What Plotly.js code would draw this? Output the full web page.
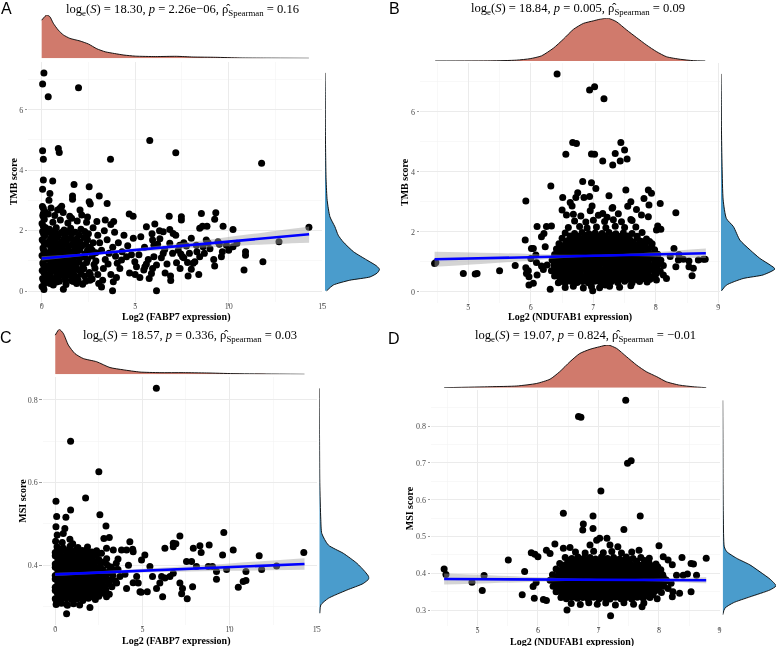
<!DOCTYPE html>
<html><head><meta charset="utf-8">
<script src="https://cdn.plot.ly/plotly-3.0.1.min.js"></script>
<style>html,body{margin:0;padding:0;background:#fff}#chart{width:776px;height:646px}#chart .main-svg{will-change:transform}</style>
</head><body><div id="chart"></div>
<script>
// ---------------- DATA ----------------
// Panel A: FABP7 expression vs TMB score  [x, y]
const tmbVsFabp7 = [
[0.12,7.22],[0.05,6.85],[1.97,6.73],[0.35,6.43],[0.05,4.64],[0.09,4.36],[0.89,4.72],[0.94,4.59],[3.68,4.36],[5.78,4.98],[7.17,4.58],[11.76,4.23],
[0.09,3.68],[0.05,3.37],[0.59,3.64],[0.44,3.23],[0.39,3.01],[1.73,3.53],[1.65,3.15],[1.65,3.04],[2.54,3.45],[2.54,2.96],[2.6,2.88],[3.08,3.15],[3.5,2.9],[1.07,2.81],[0.98,2.74],[0.09,2.74],[0.09,2.57],[1.6,2.41],[2.05,2.68],[2.14,2.52],[4.68,2.55],[4.89,2.48],[6.82,2.48],[7.47,2.46],[7.47,2.35],[8.54,2.57],[9.31,2.59],[9.25,2.38],[8.6,2.15],[8.45,2.08],[8.84,2.15],[9.7,2.15],[10.23,2.04],[5.6,2.13],[6.05,2.22],[6.85,2.04],[7.03,1.91],[7.17,1.85],[6.5,1.96],[6.32,1.73],[5.93,1.69],[6.0,1.52],[6.85,1.58],[7.38,1.52],[7.74,1.49],[8.27,1.52],[8.63,1.47],[8.8,1.69],[9.43,1.63],[9.88,1.52],[10.23,1.47],[10.44,1.58],[12.69,1.63],[14.29,2.11],[11.83,0.97],[10.82,0.7],[10.9,1.3],[10.9,1.19],[9.66,1.3],[9.61,1.14],[9.25,0.83],[8.45,1.14],[8.19,0.97],[8.1,0.92],[8.0,0.72],[7.83,0.5],[7.44,1.23],[7.53,1.14],[7.21,0.94],[6.89,0.5],[6.58,1.38],[6.5,1.25],[6.14,0.86],[6.0,1.14],[5.93,0.75],[5.87,0.58],[6.14,0.01],[5.75,0.42],[5.25,0.45],[5.46,0.7],[5.52,0.81],[4.98,0.97],[5.07,0.81],[4.54,1.14],[4.27,1.03],[4.04,0.92],[4.18,0.75],[3.83,0.31],[3.79,0.01],[3.26,0.36],[3.2,0.14],[2.58,0.36],[2.19,0.23],[1.87,0.25],[1.16,0.06],[0.62,0.2],[0.09,0.14],
[0.02,0.15],[0.18,0.28],[0.05,0.42],[0.2,0.55],[0.03,0.68],[0.16,0.8],[0.06,0.93],[0.22,1.05],[0.02,1.18],[0.15,1.3],[0.07,1.43],[0.2,1.56],[0.03,1.7],[0.17,1.83],[0.05,1.97],[0.21,2.1],[0.02,2.24],[0.14,2.38],[0.06,2.5],[0.19,2.62],[0.04,2.8],[0.12,0.05],[0.1,0.35],[0.12,0.62],[0.09,0.88],[0.11,1.12],[0.1,1.37],[0.12,1.62],[0.1,1.9],[0.09,2.15],[0.11,2.45],
[0.45,0.25],[0.8,0.3],[1.3,0.22],[1.7,0.32],
[0.35,0.48],[0.65,0.42],[0.95,0.5],[1.25,0.44],[1.55,0.52],[1.9,0.45],[2.3,0.5],
[0.5,0.65],[0.78,0.7],[1.08,0.62],[1.38,0.68],[1.68,0.63],[2.0,0.7],[2.55,0.62],
[0.38,0.85],[0.65,0.9],[0.95,0.82],[1.22,0.88],[1.52,0.84],[1.82,0.9],[2.2,0.85],[2.8,0.88],
[0.5,1.05],[0.8,1.1],[1.1,1.02],[1.4,1.08],[1.7,1.04],[2.05,1.1],[2.45,1.05],
[0.36,1.25],[0.66,1.28],[0.96,1.22],[1.26,1.3],[1.56,1.24],[1.9,1.28],[2.3,1.22],[2.9,1.27],
[0.5,1.45],[0.82,1.48],[1.12,1.42],[1.45,1.5],[1.78,1.44],[2.15,1.5],[2.6,1.45],
[0.4,1.65],[0.72,1.68],[1.05,1.62],[1.35,1.7],[1.7,1.66],[2.05,1.62],[2.45,1.7],
[0.55,1.85],[0.9,1.88],[1.25,1.82],[1.6,1.9],[2.0,1.86],[2.5,1.9],
[0.42,2.05],[0.78,2.1],[1.2,2.02],[1.55,2.08],[2.1,2.05],[2.75,2.1],
[0.6,2.28],[1.0,2.35],[1.4,2.25],[1.9,2.32],[2.4,2.28],
[0.35,2.55],[0.7,2.5],[1.15,2.6],[1.5,2.48],[0.5,2.75],[0.85,2.68],
[0.3,0.35],[0.62,0.36],[0.95,0.33],[1.28,0.37],[1.6,0.34],[1.95,0.36],[2.35,0.33],
[0.45,0.55],[0.8,0.57],[1.12,0.54],[1.42,0.56],[1.75,0.53],[2.1,0.57],[2.6,0.55],
[0.32,0.75],[0.65,0.77],[0.95,0.74],[1.25,0.76],[1.55,0.73],[1.85,0.77],[2.25,0.74],[2.85,0.76],
[0.5,0.95],[0.82,0.97],[1.1,0.94],[1.4,0.96],[1.68,0.93],[2.0,0.97],[2.4,0.95],
[0.35,1.15],[0.65,1.17],[0.95,1.14],[1.25,1.16],[1.55,1.13],[1.88,1.17],[2.25,1.14],[2.7,1.16],
[0.48,1.35],[0.8,1.37],[1.1,1.34],[1.42,1.36],[1.72,1.33],[2.05,1.37],[2.45,1.35],
[0.35,1.55],[0.66,1.57],[0.98,1.54],[1.3,1.56],[1.62,1.53],[1.95,1.57],[2.35,1.55],
[0.5,1.75],[0.85,1.77],[1.2,1.74],[1.55,1.76],[1.88,1.73],[2.25,1.77],
[0.35,1.95],[0.7,1.97],[1.05,1.94],[1.4,1.96],[1.8,1.95],[2.3,1.97],
[3.0,0.55],[3.3,0.75],[2.9,1.0],[3.4,1.05],[3.2,1.35],[3.6,1.25],[3.1,1.6],[3.5,1.7],[3.0,1.85],[3.35,2.0],[3.7,2.2],[3.9,1.95],[4.1,1.6],[3.8,1.45],[4.3,1.3],[3.7,0.55],[4.0,0.45],[2.7,0.4],[3.05,0.25],[2.7,1.35],[2.75,1.6],[3.55,0.9],[3.95,1.15],[4.4,1.85],[4.6,1.5],[4.8,1.2],[4.7,0.6],[3.4,2.35],[2.95,2.3],[2.45,2.45],[3.85,2.3],
[5.2,1.2],[5.5,1.45],[5.7,1.05],[6.2,1.55],[6.4,1.1],[6.7,0.9],[7.0,1.25],[7.3,1.35],[7.6,1.1],[7.9,1.25],[8.3,1.3],[8.7,1.25],[9.0,1.4],[5.3,1.8],[5.9,1.9],[6.3,2.0],[7.6,1.6],[8.0,1.75],[8.9,1.6],[9.2,1.05],[5.0,0.55],[6.6,0.6],[7.4,0.75],[8.4,0.55],[4.9,1.75],[5.6,0.9],[6.9,0.35],[7.8,0.95],[9.5,1.55],[10.0,1.35]
];
// Panel B: NDUFAB1 expression vs TMB score
const tmbVsNdufab1 = [
[6.42,7.26],[6.94,6.72],[7.02,6.83],[7.17,6.43],[6.67,4.97],[6.73,4.94],[6.56,4.58],[6.97,4.59],[7.02,4.58],[7.15,4.36],[7.31,4.22],[7.35,4.61],[7.43,4.36],[7.44,4.97],[7.5,4.72],[7.54,4.42],[7.52,3.39],[6.32,3.52],[5.92,3.02],[6.83,3.67],[6.97,3.63],[7.04,3.44],[6.51,3.14],[6.72,3.14],[6.85,3.14],[6.94,3.17],[6.63,2.97],[6.66,2.86],[6.98,2.86],[7.88,3.39],[7.93,3.28],[7.81,3.11],[8.07,2.94],[7.89,2.89],[7.31,2.81],[7.69,2.74],[8.32,2.63],[6.5,2.72],[6.57,2.56],[6.68,2.58],[7.15,2.61],[7.6,2.41],[7.77,2.56],[7.88,2.5],[8.03,2.19],[8.01,2.06],[8.08,2.08],[6.25,2.17],[6.33,2.19],[6.1,2.17],[5.91,1.72],[6.01,1.44],[6.04,1.44],[6.08,1.22],[6.17,1.83],[6.21,1.94],[6.23,1.5],[8.29,1.44],[8.37,1.24],[8.23,1.17],[8.36,1.06],[8.32,0.83],[8.44,1.08],[8.53,1.02],[8.53,0.83],[8.6,0.78],[8.76,1.08],[8.68,1.06],[8.58,0.53],[8.79,1.08],[4.46,0.94],[4.48,0.97],[4.92,0.61],[5.11,0.59],[5.14,0.61],[5.5,0.7],[5.75,0.87],[5.92,0.8],[5.96,0.7],[5.93,0.61],[5.97,0.5],[6.0,1.11],[5.97,0.22],[6.04,0.28],[6.09,0.97],[6.1,0.56],[6.17,0.86],[6.31,0.08],[6.44,0.3],[6.99,0.03],[7.19,0.22],[6.2,0.74],[6.26,0.89],[7.92,0.44],[8.01,0.61],[8.01,0.39],[8.12,0.56],[8.17,0.44],
[6.55,0.14],[6.68,0.18],[6.84,0.12],[6.97,0.17],[7.1,0.13],[7.26,0.18],[7.42,0.15],[7.6,0.2],
[6.46,0.33],[6.55,0.3],[6.64,0.35],[6.74,0.31],[6.83,0.34],[6.92,0.3],[7.02,0.35],[7.11,0.32],[7.2,0.3],[7.29,0.34],[7.39,0.31],[7.5,0.35],[7.62,0.3],[7.74,0.34],[7.86,0.32],
[6.38,0.52],[6.47,0.49],[6.57,0.53],[6.65,0.5],[6.74,0.52],[6.84,0.48],[6.93,0.53],[7.01,0.5],[7.11,0.52],[7.19,0.49],[7.28,0.53],[7.37,0.5],[7.47,0.52],[7.55,0.48],[7.64,0.53],[7.73,0.5],[7.83,0.52],[7.93,0.49],
[6.33,0.7],[6.42,0.68],[6.51,0.71],[6.6,0.67],[6.69,0.7],[6.79,0.68],[6.88,0.72],[6.96,0.67],[7.06,0.7],[7.15,0.68],[7.24,0.71],[7.33,0.67],[7.42,0.7],[7.51,0.68],[7.6,0.72],[7.69,0.67],[7.78,0.7],[7.87,0.68],[7.97,0.71],[8.07,0.69],
[6.37,0.88],[6.46,0.86],[6.56,0.89],[6.64,0.85],[6.74,0.88],[6.83,0.86],[6.92,0.89],[7.01,0.85],[7.1,0.88],[7.2,0.86],[7.28,0.89],[7.38,0.85],[7.47,0.88],[7.56,0.86],[7.65,0.89],[7.74,0.85],[7.83,0.88],[7.92,0.86],[8.02,0.89],[8.12,0.87],
[6.34,1.06],[6.43,1.04],[6.52,1.07],[6.61,1.03],[6.7,1.06],[6.79,1.04],[6.88,1.07],[6.97,1.03],[7.06,1.06],[7.15,1.04],[7.24,1.07],[7.33,1.03],[7.42,1.06],[7.51,1.04],[7.6,1.07],[7.69,1.03],[7.78,1.06],[7.88,1.04],[7.98,1.07],[8.08,1.05],
[6.38,1.24],[6.47,1.22],[6.56,1.25],[6.65,1.21],[6.74,1.24],[6.83,1.22],[6.92,1.25],[7.01,1.21],[7.1,1.24],[7.19,1.22],[7.28,1.25],[7.37,1.21],[7.46,1.24],[7.55,1.22],[7.64,1.25],[7.73,1.21],[7.82,1.24],[7.92,1.22],[8.03,1.25],
[6.41,1.42],[6.5,1.4],[6.6,1.43],[6.69,1.39],[6.78,1.42],[6.87,1.4],[6.96,1.43],[7.05,1.39],[7.14,1.42],[7.23,1.4],[7.32,1.43],[7.41,1.39],[7.5,1.42],[7.59,1.4],[7.68,1.43],[7.77,1.39],[7.87,1.42],[7.98,1.4],
[6.45,1.6],[6.55,1.58],[6.64,1.61],[6.73,1.57],[6.82,1.6],[6.91,1.58],[7.0,1.61],[7.09,1.57],[7.18,1.6],[7.27,1.58],[7.36,1.61],[7.45,1.57],[7.54,1.6],[7.63,1.58],[7.73,1.61],[7.83,1.57],[7.94,1.6],
[6.5,1.78],[6.62,1.76],[6.72,1.79],[6.8,1.75],[6.9,1.78],[7.0,1.76],[7.09,1.79],[7.18,1.75],[7.28,1.78],[7.38,1.76],[7.47,1.79],[7.58,1.75],[7.7,1.78],[7.85,1.76],
[6.55,1.96],[6.7,1.94],[6.82,1.97],[6.93,1.93],[7.03,1.96],[7.14,1.94],[7.25,1.97],[7.36,1.93],[7.48,1.96],[7.62,1.94],[7.78,1.97],
[6.6,2.14],[6.78,2.17],[6.9,2.12],[7.05,2.16],[7.2,2.13],[7.35,2.18],[7.5,2.14],[7.68,2.16],
[6.7,2.36],[6.88,2.32],[7.0,2.38],[7.18,2.34],[7.32,2.4],[7.45,2.33],[7.62,2.37],
[6.8,2.52],[7.08,2.55],[7.4,2.6],[7.22,2.48],[6.95,2.7],[7.3,2.78],[7.55,2.85],[6.75,3.3],[7.25,3.2],[7.6,3.0],
[6.5,0.42],[6.6,0.41],[6.69,0.43],[6.79,0.4],[6.88,0.42],[6.97,0.41],[7.06,0.43],[7.16,0.4],[7.25,0.42],[7.34,0.41],[7.44,0.43],[7.53,0.4],[7.6,0.42],[7.69,0.41],[7.79,0.43],[7.9,0.41],
[6.42,0.6],[6.52,0.59],[6.61,0.61],[6.7,0.58],[6.79,0.6],[6.89,0.59],[6.98,0.61],[7.06,0.58],[7.15,0.6],[7.24,0.59],[7.33,0.61],[7.42,0.58],[7.51,0.6],[7.6,0.59],[7.69,0.61],[7.78,0.58],[7.88,0.6],[7.99,0.59],
[6.38,0.78],[6.47,0.77],[6.56,0.79],[6.65,0.76],[6.74,0.78],[6.84,0.77],[6.92,0.79],[7.01,0.76],[7.1,0.78],[7.2,0.77],[7.28,0.79],[7.37,0.76],[7.47,0.78],[7.56,0.77],[7.65,0.79],[7.74,0.76],[7.83,0.78],[7.92,0.77],[8.02,0.79],
[6.42,0.96],[6.51,0.95],[6.6,0.97],[6.69,0.94],[6.79,0.96],[6.88,0.95],[6.97,0.97],[7.06,0.94],[7.15,0.96],[7.24,0.95],[7.33,0.97],[7.42,0.94],[7.51,0.96],[7.6,0.95],[7.69,0.97],[7.78,0.94],[7.88,0.96],[7.98,0.95],[8.07,0.97],
[6.38,1.14],[6.47,1.13],[6.56,1.15],[6.65,1.12],[6.74,1.14],[6.83,1.13],[6.92,1.15],[7.01,1.12],[7.1,1.14],[7.19,1.13],[7.28,1.15],[7.37,1.12],[7.46,1.14],[7.55,1.13],[7.64,1.15],[7.73,1.12],[7.83,1.14],[7.93,1.13],[8.03,1.15],
[6.43,1.32],[6.52,1.31],[6.61,1.33],[6.7,1.3],[6.79,1.32],[6.88,1.31],[6.97,1.33],[7.06,1.3],[7.15,1.32],[7.24,1.31],[7.33,1.33],[7.42,1.3],[7.51,1.32],[7.6,1.31],[7.69,1.33],[7.78,1.3],[7.88,1.32],[7.98,1.31],
[6.46,1.5],[6.55,1.49],[6.65,1.51],[6.74,1.48],[6.83,1.5],[6.92,1.49],[7.01,1.51],[7.1,1.48],[7.19,1.5],[7.28,1.49],[7.37,1.51],[7.46,1.48],[7.55,1.5],[7.64,1.49],[7.73,1.51],[7.83,1.48],[7.93,1.5],
[6.57,1.68],[6.67,1.67],[6.77,1.69],[6.86,1.66],[6.95,1.68],[7.04,1.67],[7.13,1.69],[7.23,1.66],[7.33,1.68],[7.42,1.67],[7.52,1.69],[7.63,1.66],[7.76,1.68],[7.9,1.67],
[6.63,1.86],[6.76,1.85],[6.87,1.87],[6.98,1.84],[7.08,1.86],[7.19,1.85],[7.3,1.87],[7.42,1.84],[7.55,1.86],[7.7,1.85]
];
// Panel C: FABP7 expression vs MSI score
const msiVsFabp7 = [
[5.8,0.828],[0.88,0.70],[2.5,0.626],[0.04,0.555],[1.74,0.563],[0.88,0.534],[0.08,0.518],[0.61,0.516],[2.56,0.522],[0.04,0.493],[0.55,0.489],[2.91,0.495],[0.11,0.473],[0.46,0.477],[0.84,0.463],[2.79,0.465],[3.1,0.467],[4.28,0.457],[7.15,0.471],[9.67,0.479],[6.77,0.453],[6.92,0.452],[6.29,0.441],[6.77,0.445],[7.92,0.441],[8.3,0.447],[8.83,0.449],[10.21,0.437],[8.37,0.431],[9.6,0.425],[11.7,0.423],[14.26,0.431],[12.7,0.398],[11.84,0.39],[10.94,0.385],[10.94,0.363],[10.78,0.361],[10.5,0.347],[9.83,0.39],[9.25,0.385],[9.25,0.366],[7.53,0.409],[7.82,0.409],[8.1,0.397],[8.78,0.397],[9.02,0.397],[7.15,0.357],[7.3,0.344],[7.57,0.319],[7.25,0.331],[7.88,0.348],[6.77,0.381],[6.58,0.373],[6.29,0.369],[6.1,0.373],[5.43,0.397],[5.58,0.373],[4.95,0.413],[5.14,0.425],[4.47,0.433],[4.44,0.439],[5.81,0.344],[6.0,0.357],[6.16,0.324],[4.86,0.336],[4.93,0.335],[5.28,0.336],[4.09,0.344],[4.47,0.358],[3.52,0.357],[3.71,0.373],[3.33,0.389],[3.52,0.389],[3.8,0.437],[4.09,0.437],[4.67,0.373],[4.76,0.357],[2.94,0.324],[2.91,0.332],[1.99,0.298],[0.65,0.283],[0.65,0.306],[0.08,0.31],[2.18,0.358],[2.56,0.332],[2.41,0.393],[2.56,0.409],[1.8,0.437],[1.99,0.429],[2.37,0.435],[2.94,0.441],[3.33,0.437],
[0.05,0.305],[0.35,0.308],[0.7,0.303],[1.05,0.307],[1.4,0.304],
[0.0,0.319],[0.3,0.316],[0.62,0.32],[0.94,0.317],[1.26,0.319],[1.58,0.315],[1.9,0.32],[2.3,0.317],
[0.12,0.333],[0.44,0.33],[0.76,0.334],[1.08,0.331],[1.4,0.333],[1.72,0.329],[2.04,0.334],[2.36,0.33],[2.7,0.333],[3.1,0.33],
[0.0,0.347],[0.3,0.344],[0.62,0.348],[0.94,0.345],[1.26,0.347],[1.58,0.343],[1.9,0.348],[2.22,0.344],[2.54,0.347],[2.88,0.343],[3.25,0.348],
[0.14,0.361],[0.46,0.358],[0.78,0.362],[1.1,0.359],[1.42,0.361],[1.74,0.357],[2.06,0.362],[2.38,0.358],[2.7,0.361],[3.05,0.358],[3.45,0.362],
[0.0,0.375],[0.3,0.372],[0.62,0.376],[0.94,0.373],[1.26,0.375],[1.58,0.371],[1.9,0.376],[2.22,0.372],[2.54,0.375],[2.9,0.372],[3.3,0.376],[4.0,0.378],
[0.14,0.389],[0.46,0.386],[0.78,0.39],[1.1,0.387],[1.42,0.389],[1.74,0.385],[2.06,0.39],[2.38,0.386],[2.72,0.389],[3.1,0.386],[3.6,0.39],[4.2,0.4],
[0.0,0.403],[0.3,0.4],[0.62,0.404],[0.94,0.401],[1.26,0.403],[1.58,0.399],[1.9,0.404],[2.24,0.4],[2.6,0.403],[3.0,0.4],[3.5,0.405],
[0.14,0.417],[0.46,0.414],[0.78,0.418],[1.1,0.415],[1.42,0.417],[1.76,0.413],[2.12,0.418],[2.5,0.414],[2.95,0.416],[3.6,0.415],
[0.0,0.431],[0.3,0.428],[0.64,0.432],[0.98,0.429],[1.34,0.431],[1.72,0.427],[2.1,0.432],[2.65,0.429],
[0.1,0.445],[0.45,0.442],[0.85,0.446],[1.3,0.443],[1.85,0.444],
[0.02,0.458],[0.4,0.455],[1.0,0.452],
[0.16,0.325],[0.48,0.326],[0.8,0.324],[1.12,0.326],[1.44,0.324],[1.76,0.326],[2.1,0.324],[2.5,0.325],
[0.0,0.339],[0.28,0.34],[0.6,0.338],[0.92,0.34],[1.24,0.338],[1.56,0.34],[1.88,0.338],[2.2,0.34],[2.52,0.338],[2.9,0.34],
[0.15,0.353],[0.46,0.354],[0.78,0.352],[1.1,0.354],[1.42,0.352],[1.74,0.354],[2.06,0.352],[2.38,0.354],[2.72,0.352],[3.1,0.354],
[0.0,0.367],[0.3,0.368],[0.62,0.366],[0.94,0.368],[1.26,0.366],[1.58,0.368],[1.9,0.366],[2.22,0.368],[2.54,0.366],[2.88,0.368],[3.25,0.366],
[0.15,0.381],[0.46,0.382],[0.78,0.38],[1.1,0.382],[1.42,0.38],[1.74,0.382],[2.06,0.38],[2.38,0.382],[2.72,0.38],[3.1,0.382],
[0.0,0.395],[0.3,0.396],[0.62,0.394],[0.94,0.396],[1.26,0.394],[1.58,0.396],[1.9,0.394],[2.22,0.396],[2.6,0.394],[3.2,0.396],
[0.15,0.409],[0.46,0.41],[0.78,0.408],[1.1,0.41],[1.42,0.408],[1.74,0.41],[2.06,0.408],[2.4,0.41],[2.8,0.408],
[0.0,0.423],[0.3,0.424],[0.62,0.422],[0.94,0.424],[1.26,0.422],[1.58,0.424],[1.95,0.422],[2.35,0.424],
[0.15,0.437],[0.5,0.438],[0.85,0.436],[1.2,0.438],[1.55,0.436]
];
// Panel D: NDUFAB1 expression vs MSI score
const msiVsNdufab1 = [
[7.45,0.870],[6.67,0.826],[6.71,0.824],[7.48,0.699],[7.54,0.706],[7.04,0.624],[6.42,0.563],[6.91,0.556],[7.69,0.556],[6.75,0.534],[6.74,0.518],[6.91,0.522],[7.42,0.519],[6.97,0.49],[7.02,0.495],[7.14,0.495],[7.19,0.477],[6.86,0.477],[8.0,0.475],[7.67,0.463],[6.28,0.48],[6.42,0.468],[6.53,0.47],[7.32,0.472],[5.51,0.436],[5.89,0.456],[5.95,0.452],[6.0,0.445],[5.78,0.405],[4.45,0.412],[4.48,0.397],[4.91,0.376],[5.11,0.394],[5.08,0.353],[5.74,0.342],[5.94,0.332],[6.09,0.329],[6.14,0.326],[5.97,0.375],[5.92,0.364],[6.31,0.352],[6.48,0.30],[7.2,0.285],[7.72,0.309],[8.22,0.336],[8.34,0.346],[8.15,0.359],[8.23,0.35],[8.07,0.391],[8.12,0.382],[8.2,0.373],[8.29,0.395],[8.4,0.395],[8.47,0.398],[8.53,0.427],[8.57,0.425],[8.62,0.395],[8.78,0.441],[8.53,0.35],[8.38,0.443],[8.07,0.445],[8.15,0.436],[8.22,0.423],[7.98,0.418],[6.14,0.463],[6.2,0.454],
[6.55,0.318],[6.7,0.315],[6.84,0.32],[6.98,0.316],[7.12,0.319],[7.28,0.314],[7.42,0.32],[7.58,0.316],[7.75,0.319],
[6.38,0.334],[6.47,0.331],[6.56,0.335],[6.65,0.332],[6.74,0.334],[6.83,0.33],[6.92,0.335],[7.01,0.331],[7.1,0.334],[7.19,0.33],[7.28,0.335],[7.37,0.331],[7.46,0.334],[7.55,0.33],[7.64,0.335],[7.74,0.332],[7.85,0.334],[7.97,0.331],
[6.3,0.35],[6.39,0.347],[6.48,0.351],[6.57,0.348],[6.66,0.35],[6.75,0.346],[6.84,0.351],[6.93,0.347],[7.02,0.35],[7.11,0.346],[7.2,0.351],[7.29,0.347],[7.38,0.35],[7.47,0.346],[7.56,0.351],[7.65,0.347],[7.74,0.35],[7.83,0.346],[7.93,0.351],[8.04,0.348],
[6.25,0.365],[6.34,0.362],[6.43,0.366],[6.52,0.363],[6.61,0.365],[6.7,0.361],[6.79,0.366],[6.88,0.362],[6.97,0.365],[7.06,0.361],[7.15,0.366],[7.24,0.362],[7.33,0.365],[7.42,0.361],[7.51,0.366],[7.6,0.362],[7.69,0.365],[7.78,0.361],[7.87,0.366],[7.97,0.362],[8.08,0.365],
[6.2,0.381],[6.29,0.378],[6.38,0.382],[6.47,0.379],[6.56,0.381],[6.65,0.377],[6.74,0.382],[6.83,0.378],[6.92,0.381],[7.01,0.377],[7.1,0.382],[7.19,0.378],[7.28,0.381],[7.37,0.377],[7.46,0.382],[7.55,0.378],[7.64,0.381],[7.73,0.377],[7.82,0.382],[7.92,0.378],[8.02,0.381],[8.12,0.379],
[6.24,0.396],[6.33,0.393],[6.42,0.397],[6.51,0.394],[6.6,0.396],[6.69,0.392],[6.78,0.397],[6.87,0.393],[6.96,0.396],[7.05,0.392],[7.14,0.397],[7.23,0.393],[7.32,0.396],[7.41,0.392],[7.5,0.397],[7.59,0.393],[7.68,0.396],[7.77,0.392],[7.86,0.397],[7.96,0.393],[8.06,0.396],
[6.3,0.412],[6.39,0.409],[6.48,0.413],[6.57,0.41],[6.66,0.412],[6.75,0.408],[6.84,0.413],[6.93,0.409],[7.02,0.412],[7.11,0.408],[7.2,0.413],[7.29,0.409],[7.38,0.412],[7.47,0.408],[7.56,0.413],[7.65,0.409],[7.74,0.412],[7.83,0.408],[7.93,0.413],[8.03,0.41],
[6.36,0.427],[6.46,0.424],[6.55,0.428],[6.64,0.425],[6.73,0.427],[6.82,0.423],[6.91,0.428],[7.0,0.424],[7.09,0.427],[7.18,0.423],[7.27,0.428],[7.36,0.424],[7.45,0.427],[7.54,0.423],[7.63,0.428],[7.73,0.424],[7.84,0.427],[7.95,0.425],
[6.45,0.443],[6.56,0.44],[6.66,0.444],[6.76,0.441],[6.86,0.443],[6.95,0.439],[7.05,0.444],[7.15,0.44],[7.25,0.443],[7.35,0.439],[7.46,0.444],[7.57,0.44],[7.7,0.443],[7.84,0.441],
[6.62,0.458],[6.78,0.455],[6.92,0.46],[7.08,0.456],[7.22,0.459],[7.38,0.455],[7.55,0.458],
[6.43,0.342],[6.52,0.341],[6.61,0.343],[6.7,0.34],[6.79,0.342],[6.88,0.341],[6.97,0.343],[7.06,0.34],[7.15,0.342],[7.24,0.341],[7.33,0.343],[7.42,0.34],[7.51,0.342],[7.6,0.341],[7.69,0.343],[7.79,0.34],[7.9,0.342],
[6.35,0.357],[6.44,0.356],[6.53,0.358],[6.62,0.355],[6.71,0.357],[6.8,0.356],[6.89,0.358],[6.98,0.355],[7.07,0.357],[7.16,0.356],[7.25,0.358],[7.34,0.355],[7.43,0.357],[7.52,0.356],[7.61,0.358],[7.7,0.355],[7.79,0.357],[7.88,0.356],[7.99,0.358],
[6.3,0.373],[6.39,0.372],[6.48,0.374],[6.57,0.371],[6.66,0.373],[6.75,0.372],[6.84,0.374],[6.93,0.371],[7.02,0.373],[7.11,0.372],[7.2,0.374],[7.29,0.371],[7.38,0.373],[7.47,0.372],[7.56,0.374],[7.65,0.371],[7.74,0.373],[7.83,0.372],[7.93,0.374],[8.04,0.372],
[6.29,0.388],[6.38,0.387],[6.47,0.389],[6.56,0.386],[6.65,0.388],[6.74,0.387],[6.83,0.389],[6.92,0.386],[7.01,0.388],[7.1,0.387],[7.19,0.389],[7.28,0.386],[7.37,0.388],[7.46,0.387],[7.55,0.389],[7.64,0.386],[7.73,0.388],[7.82,0.387],[7.92,0.389],[8.02,0.387],
[6.34,0.404],[6.43,0.403],[6.52,0.405],[6.61,0.402],[6.7,0.404],[6.79,0.403],[6.88,0.405],[6.97,0.402],[7.06,0.404],[7.15,0.403],[7.24,0.405],[7.33,0.402],[7.42,0.404],[7.51,0.403],[7.6,0.405],[7.69,0.402],[7.78,0.404],[7.88,0.403],[7.98,0.405],
[6.41,0.419],[6.5,0.418],[6.6,0.42],[6.69,0.417],[6.78,0.419],[6.87,0.418],[6.96,0.42],[7.05,0.417],[7.14,0.419],[7.23,0.418],[7.32,0.42],[7.41,0.417],[7.5,0.419],[7.59,0.418],[7.68,0.42],[7.78,0.417],[7.89,0.419],
[6.5,0.435],[6.6,0.434],[6.7,0.436],[6.8,0.433],[6.9,0.435],[7.0,0.434],[7.1,0.436],[7.2,0.433],[7.3,0.435],[7.4,0.434],[7.51,0.436],[7.63,0.433],[7.76,0.435]
];

// Regression fits (line ends) and confidence bands
const fitA_x = [0, 14.3], fitA_y = [1.08, 1.88];
const bandA_x = [0, 1.5, 3, 5, 7, 9, 11, 14.3];
const bandA_lo = [1.01, 1.11, 1.20, 1.30, 1.38, 1.45, 1.52, 1.60];
const bandA_hi = [1.15, 1.21, 1.29, 1.42, 1.56, 1.71, 1.87, 2.14];
const fitB_x = [4.46, 8.8], fitB_y = [1.08, 1.28];
const bandB_x = [4.46, 5.2, 6.0, 6.6, 7.1, 7.6, 8.2, 8.8];
const bandB_lo = [0.83, 0.92, 1.04, 1.13, 1.17, 1.19, 1.15, 1.12];
const bandB_hi = [1.33, 1.30, 1.26, 1.23, 1.23, 1.27, 1.35, 1.44];
const fitC_x = [0, 14.3], fitC_y = [0.378, 0.403];
const bandC_x = [0, 2, 4, 7, 10, 14.3];
const bandC_lo = [0.374, 0.3785, 0.381, 0.3843, 0.3865, 0.389];
const bandC_hi = [0.382, 0.3845, 0.389, 0.3963, 0.4045, 0.417];
const fitD_x = [4.45, 8.78], fitD_y = [0.3845, 0.381];
const bandD_x = [4.45, 5.2, 6.0, 6.6, 7.1, 7.6, 8.2, 8.78];
const bandD_lo = [0.3695, 0.3729, 0.3773, 0.3798, 0.3804, 0.3795, 0.3765, 0.373];
const bandD_hi = [0.3995, 0.3949, 0.3893, 0.3858, 0.3844, 0.3845, 0.3865, 0.389];

// Marginal densities (relative heights)
const fabp7DensA_x = [0, 0.27, 0.44, 0.62, 0.89, 1.16, 1.51, 2.05, 2.5, 2.95, 3.4, 3.9, 4.4, 5.0, 6.1, 7.2, 8.1, 9.3, 10.6, 12.0, 14.29];
const fabp7DensA_h = [0.88, 1.0, 0.96, 0.81, 0.65, 0.54, 0.46, 0.40, 0.33, 0.22, 0.15, 0.11, 0.075, 0.05, 0.04, 0.046, 0.03, 0.023, 0.008, 0.004, 0];
const tmbDensA_y = [0.01, 0.2, 0.36, 0.47, 0.6, 0.72, 0.83, 1.03, 1.3, 1.63, 1.85, 2.13, 2.46, 3.0, 3.68, 4.5, 5.5, 6.5, 7.22];
const tmbDensA_w = [0.03, 0.15, 0.45, 0.82, 0.95, 0.99, 0.94, 0.76, 0.52, 0.33, 0.24, 0.18, 0.09, 0.04, 0.02, 0.012, 0.006, 0.004, 0];
const ndufab1DensB_x = [4.47, 5.35, 5.77, 5.99, 6.17, 6.36, 6.52, 6.68, 6.84, 7.0, 7.11, 7.24, 7.37, 7.53, 7.69, 7.85, 8.01, 8.17, 8.39, 8.6, 8.79];
const ndufab1DensB_h = [0, 0.003, 0.02, 0.055, 0.12, 0.3, 0.51, 0.74, 0.88, 0.94, 0.98, 1.0, 0.92, 0.73, 0.55, 0.375, 0.22, 0.1, 0.04, 0.008, 0];
const tmbDensB_y = [0.03, 0.22, 0.44, 0.56, 0.76, 0.89, 1.11, 1.39, 1.72, 2.17, 2.44, 3.06, 4.17, 5.5, 6.4, 7.26];
const tmbDensB_w = [0.01, 0.1, 0.41, 0.78, 1.0, 0.91, 0.72, 0.54, 0.35, 0.23, 0.1, 0.04, 0.02, 0.008, 0.005, 0];
const fabp7DensC_x = [0, 0.23, 0.46, 0.75, 1.13, 1.61, 2.37, 3.14, 3.9, 4.86, 6.0, 7.34, 8.68, 10.2, 12.1, 14.3];
const fabp7DensC_h = [0.87, 1.0, 0.91, 0.65, 0.46, 0.35, 0.28, 0.15, 0.1, 0.05, 0.037, 0.037, 0.03, 0.015, 0.007, 0];
const msiDensC_y = [0.284, 0.304, 0.32, 0.34, 0.356, 0.369, 0.385, 0.405, 0.429, 0.449, 0.477, 0.51, 0.6, 0.7, 0.828];
const msiDensC_w = [0.01, 0.03, 0.18, 0.55, 0.88, 1.0, 0.91, 0.75, 0.48, 0.18, 0.05, 0.03, 0.01, 0.005, 0];
const ndufab1DensD_x = [4.45, 5.21, 5.65, 5.98, 6.2, 6.36, 6.53, 6.69, 6.86, 7.02, 7.16, 7.3, 7.46, 7.63, 7.79, 7.96, 8.12, 8.34, 8.56, 8.78];
const ndufab1DensD_h = [0, 0.023, 0.04, 0.1, 0.2, 0.375, 0.61, 0.8, 0.9, 0.96, 1.0, 0.92, 0.73, 0.53, 0.375, 0.26, 0.14, 0.06, 0.023, 0];
const msiDensD_y = [0.287, 0.305, 0.32, 0.336, 0.355, 0.366, 0.384, 0.404, 0.423, 0.441, 0.459, 0.472, 0.55, 0.65, 0.75, 0.87];
const msiDensD_w = [0, 0.04, 0.2, 0.51, 0.89, 1.0, 0.89, 0.7, 0.51, 0.26, 0.075, 0.03, 0.012, 0.006, 0.004, 0];

// Text
const panelLetters = ['A', 'B', 'C', 'D'];
const statTitles = [
  'log<sub>e</sub>(<i>S</i>) = 18.30, <i>p</i> = 2.26e\u221206, \u03C1\u0302<sub>Spearman</sub> = 0.16',
  'log<sub>e</sub>(<i>S</i>) = 18.84, <i>p</i> = 0.005, \u03C1\u0302<sub>Spearman</sub> = 0.09',
  'log<sub>e</sub>(<i>S</i>) = 18.57, <i>p</i> = 0.336, \u03C1\u0302<sub>Spearman</sub> = 0.03',
  'log<sub>e</sub>(<i>S</i>) = 19.07, <i>p</i> = 0.824, \u03C1\u0302<sub>Spearman</sub> = \u22120.01'
];
const xTitles = ['Log2 (FABP7 expression)', 'Log2 (NDUFAB1 expression)', 'Log2 (FABP7 expression)', 'Log2 (NDUFAB1 expression)'];
const yTitles = ['TMB score', 'TMB score', 'MSI score', 'MSI score'];

// ---------------- LAYOUT / STYLE ----------------
const W = 776, H = 646;
const SERIF = 'Liberation Serif, Times New Roman, serif';
const RED = '#D07A6C', BLUE = '#4A9CCC';
const panels = [
  {pts: tmbVsFabp7, fx: fitA_x, fy: fitA_y, bx: bandA_x, blo: bandA_lo, bhi: bandA_hi,
   tx: fabp7DensA_x, th: fabp7DensA_h, ry: tmbDensA_y, rw: tmbDensA_w,
   xr: [-0.715, 15.005], yr: [-0.36, 7.58], xdom: [28.3, 322.3], ydom: [62, 302], tdom: [15, 58.3], rdom: [325, 380],
   xdt: 5, xmn: 2.5, ydt: 2, ymn: 1, yfmt: '',
   tpos: [182.5, 10], lpos: [6, 8], xtpos: [176, 317], ytpos: [13.3, 181]},
  {pts: tmbVsNdufab1, fx: fitB_x, fy: fitB_y, bx: bandB_x, blo: bandB_lo, bhi: bandB_hi,
   tx: ndufab1DensB_x, th: ndufab1DensB_h, ry: tmbDensB_y, rw: tmbDensB_w,
   xr: [4.23, 9.02], yr: [-0.363, 7.62], xdom: [420.2, 719.6], ydom: [63.1, 302.6], tdom: [18.3, 61], rdom: [721, 775],
   xdt: 1, xmn: 0.5, ydt: 2, ymn: 1, yfmt: '',
   tpos: [578.3, 8.5], lpos: [394, 8], xtpos: [570, 317], ytpos: [405, 182]},
  {pts: msiVsFabp7, fx: fitC_x, fy: fitC_y, bx: bandC_x, blo: bandC_lo, bhi: bandC_hi,
   tx: fabp7DensC_x, th: fabp7DensC_h, ry: msiDensC_y, rw: msiDensC_w,
   xr: [-0.715, 15.005], yr: [0.256, 0.855], xdom: [42.8, 316.8], ydom: [377.2, 624.8], tdom: [329.3, 374.3], rdom: [319.3, 369.3],
   xdt: 5, xmn: 2.5, ydt: 0.2, ymn: 0.1, yfmt: '.1f',
   tpos: [190, 335.7], lpos: [6, 337.5], xtpos: [176, 640.7], ytpos: [21.7, 501]},
  {pts: msiVsNdufab1, fx: fitD_x, fy: fitD_y, bx: bandD_x, blo: bandD_lo, bhi: bandD_hi,
   tx: ndufab1DensD_x, th: ndufab1DensD_h, ry: msiDensD_y, rw: msiDensD_w,
   xr: [4.233, 9.003], yr: [0.256, 0.899], xdom: [431.0, 719.7], ydom: [389.7, 626.3], tdom: [345, 387.7], rdom: [722.7, 776],
   xdt: 1, xmn: 0.5, ydt: 0.1, ymn: 0.05, yfmt: '.1f',
   tpos: [585, 336], lpos: [394, 338], xtpos: [571.5, 641.5], ytpos: [409.3, 508]}
];

const pxX = (a, b) => [a / W, Math.min(1, b / W)];
const pxY = (top, bottom) => [1 - bottom / H, 1 - top / H];
const axKey = (c, n) => (n === 1 ? c + 'axis' : c + 'axis' + n);
const axRef = (c, n) => (n === 1 ? c : c + n);

const traces = [];
const layout = {
  width: W, height: H, margin: {l: 0, r: 0, t: 0, b: 0},
  paper_bgcolor: 'rgba(255,255,255,0)', plot_bgcolor: 'rgba(0,0,0,0)', showlegend: false,
  annotations: []
};

panels.forEach((p, i) => {
  const nm = 3 * i + 1, nt = 3 * i + 2, nr = 3 * i + 3;
  layout[axKey('x', nm)] = {
    domain: pxX(p.xdom[0], p.xdom[1]), range: p.xr, anchor: axRef('y', nm),
    showline: false, zeroline: false, showgrid: true, gridcolor: '#EBEBEB', gridwidth: 1,
    ticks: 'outside', ticklen: 2.5, tickwidth: 0.6, tickcolor: '#555',
    tickfont: {family: SERIF, size: 8, color: '#4D4D4D'}, ticklabelstandoff: -6,
    tick0: 0, dtick: p.xdt,
    minor: {tick0: 0, dtick: p.xmn, showgrid: true, gridcolor: '#F3F3F3', gridwidth: 0.6, ticks: ''}
  };
  layout[axKey('y', nm)] = {
    domain: pxY(p.ydom[0], p.ydom[1]), range: p.yr, anchor: axRef('x', nm),
    showline: false, zeroline: false, showgrid: true, gridcolor: '#EBEBEB', gridwidth: 1,
    ticks: 'outside', ticklen: 2.5, tickwidth: 0.6, tickcolor: '#555',
    tickfont: {family: SERIF, size: 8, color: '#4D4D4D'},
    tick0: 0, dtick: p.ydt, tickformat: p.yfmt,
    minor: {tick0: 0, dtick: p.ymn, showgrid: true, gridcolor: '#F3F3F3', gridwidth: 0.6, ticks: ''}
  };
  layout[axKey('x', nt)] = {domain: pxX(p.xdom[0], p.xdom[1]), range: p.xr, anchor: axRef('y', nt), visible: false};
  layout[axKey('y', nt)] = {domain: pxY(p.tdom[0], p.tdom[1]), range: [0, 1], anchor: axRef('x', nt), visible: false};
  layout[axKey('x', nr)] = {domain: pxX(p.rdom[0], p.rdom[1]), range: [0, 1], anchor: axRef('y', nr), visible: false};
  layout[axKey('y', nr)] = {domain: pxY(p.ydom[0], p.ydom[1]), range: p.yr, anchor: axRef('x', nr), visible: false};

  const xm = axRef('x', nm), ym = axRef('y', nm);
  traces.push({type: 'scatter', mode: 'markers', x: p.pts.map(d => d[0]), y: p.pts.map(d => d[1]),
    xaxis: xm, yaxis: ym, marker: {color: '#000', size: 7}, hoverinfo: 'skip'});
  traces.push({type: 'scatter', mode: 'lines', x: p.bx, y: p.blo, xaxis: xm, yaxis: ym,
    line: {width: 0, shape: 'spline', color: 'rgba(0,0,0,0)'}, hoverinfo: 'skip'});
  traces.push({type: 'scatter', mode: 'lines', x: p.bx, y: p.bhi, xaxis: xm, yaxis: ym, fill: 'tonexty',
    fillcolor: 'rgba(160,160,160,0.45)', line: {width: 0, shape: 'spline', color: 'rgba(0,0,0,0)'}, hoverinfo: 'skip'});
  traces.push({type: 'scatter', mode: 'lines', x: p.fx, y: p.fy, xaxis: xm, yaxis: ym,
    line: {color: '#0000FF', width: 2.6}, hoverinfo: 'skip'});
  traces.push({type: 'scatter', mode: 'lines', x: p.tx, y: p.th, xaxis: axRef('x', nt), yaxis: axRef('y', nt),
    fill: 'tozeroy', fillcolor: RED, line: {color: '#000', width: 0.9, shape: 'spline', smoothing: 0.6}, hoverinfo: 'skip'});
  traces.push({type: 'scatter', mode: 'lines', x: p.rw, y: p.ry, xaxis: axRef('x', nr), yaxis: axRef('y', nr),
    fill: 'tozerox', fillcolor: BLUE, line: {color: '#000', width: 0.9, shape: 'spline', smoothing: 0.6}, hoverinfo: 'skip'});

  layout.annotations.push({xref: 'paper', yref: 'paper', x: p.tpos[0] / W, y: 1 - p.tpos[1] / H,
    xanchor: 'center', yanchor: 'middle', showarrow: false, text: statTitles[i],
    font: {family: SERIF, size: 12.6, color: '#000'}});
  layout.annotations.push({xref: 'paper', yref: 'paper', x: p.lpos[0] / W, y: 1 - p.lpos[1] / H,
    xanchor: 'center', yanchor: 'middle', showarrow: false, text: panelLetters[i],
    font: {family: 'Liberation Sans, Arial, sans-serif', size: 16, color: '#000'}});
  layout.annotations.push({xref: 'paper', yref: 'paper', x: p.xtpos[0] / W, y: 1 - p.xtpos[1] / H,
    xanchor: 'center', yanchor: 'middle', showarrow: false, text: '<b>' + xTitles[i] + '</b>',
    font: {family: SERIF, size: 10, color: '#000'}});
  layout.annotations.push({xref: 'paper', yref: 'paper', x: p.ytpos[0] / W, y: 1 - p.ytpos[1] / H,
    xanchor: 'center', yanchor: 'middle', showarrow: false, textangle: -90, text: '<b>' + yTitles[i] + '</b>',
    font: {family: SERIF, size: 10, color: '#000'}});
});

Plotly.newPlot('chart', traces, layout, {staticPlot: true, displayModeBar: false});
</script></body></html>
